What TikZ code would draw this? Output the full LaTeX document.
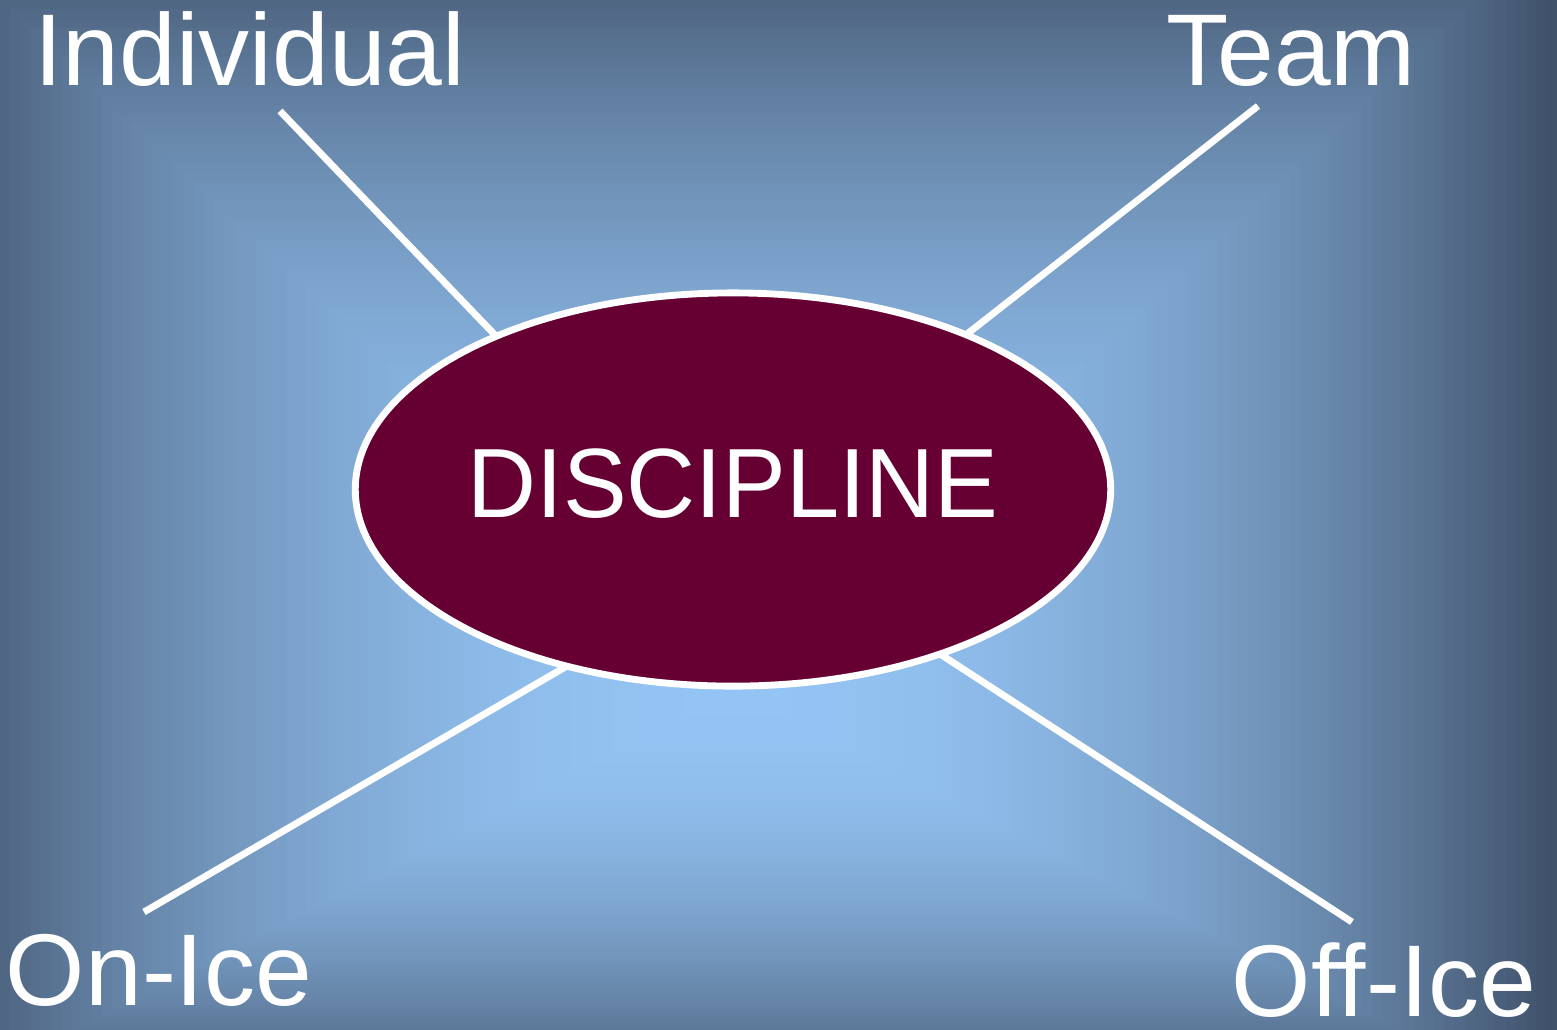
\documentclass[tikz,border=0pt]{standalone}
\usepackage{fontspec}
\setmainfont{Liberation Sans}
\usetikzlibrary{shapes.geometric}
\definecolor{bglight}{HTML}{94C4F4}
\definecolor{bgdark}{HTML}{3F5068}
\definecolor{discfill}{HTML}{660033}
\tikzset{
  lbl/.style={text=white, font=\fontsize{29}{34}\selectfont, inner sep=0pt, anchor=base},
  conn/.style={draw=white, line width=1.95pt},
  discnode/.style={ellipse, draw=white, line width=1.95pt, fill=discfill,
    minimum width=7.55cm, minimum height=3.93cm, inner sep=0pt, outer sep=0pt,
    text=white, font=\fontsize{28}{33}\selectfont, text depth=0.125cm}
}
\begin{document}
\begin{tikzpicture}[x=0.01cm,y=-0.01cm]
\useasboundingbox (0,0) rectangle (1557,1029);
\begin{scope}
  \clip (0,0) rectangle (1557,1029);
  \foreach \i in {80,79,...,1}{
    \pgfmathsetmacro{\t}{\i/80}
    \pgfmathsetmacro{\q}{(\i-0.5)/80}
    \pgfmathsetmacro{\p}{100*\q*\q}
    \fill[bgdark!\p!bglight] ({735-\t*817},{690-\t*767}) rectangle ({735+\t*822},{690+\t*420});
  }
\end{scope}
% labels
\node[lbl] (ind) at (250,85) {Individual};
\node[lbl] (team) at (1291,85) {Team};
\node[lbl] (onice) at (159,1005) {On-Ice};
\node[lbl] (office) at (1384,1016) {Off-Ice};
% connector ends
\coordinate (i1) at (280,111);
\coordinate (i2) at (495,335);
\coordinate (t1) at (1258,106);
\coordinate (t2) at (967,334);
\coordinate (o1) at (144,912);
\coordinate (o2) at (567,666);
\coordinate (f1) at (1352,922);
\coordinate (f2) at (940,654);
\draw[conn] (i1) -- (i2);
\draw[conn] (t1) -- (t2);
\draw[conn] (o1) -- (o2);
\draw[conn] (f1) -- (f2);
% central ellipse
\node[discnode] (disc) at (733,489.5) {\scalebox{0.97}[1]{DISCIPLINE}};
\end{tikzpicture}
\end{document}
